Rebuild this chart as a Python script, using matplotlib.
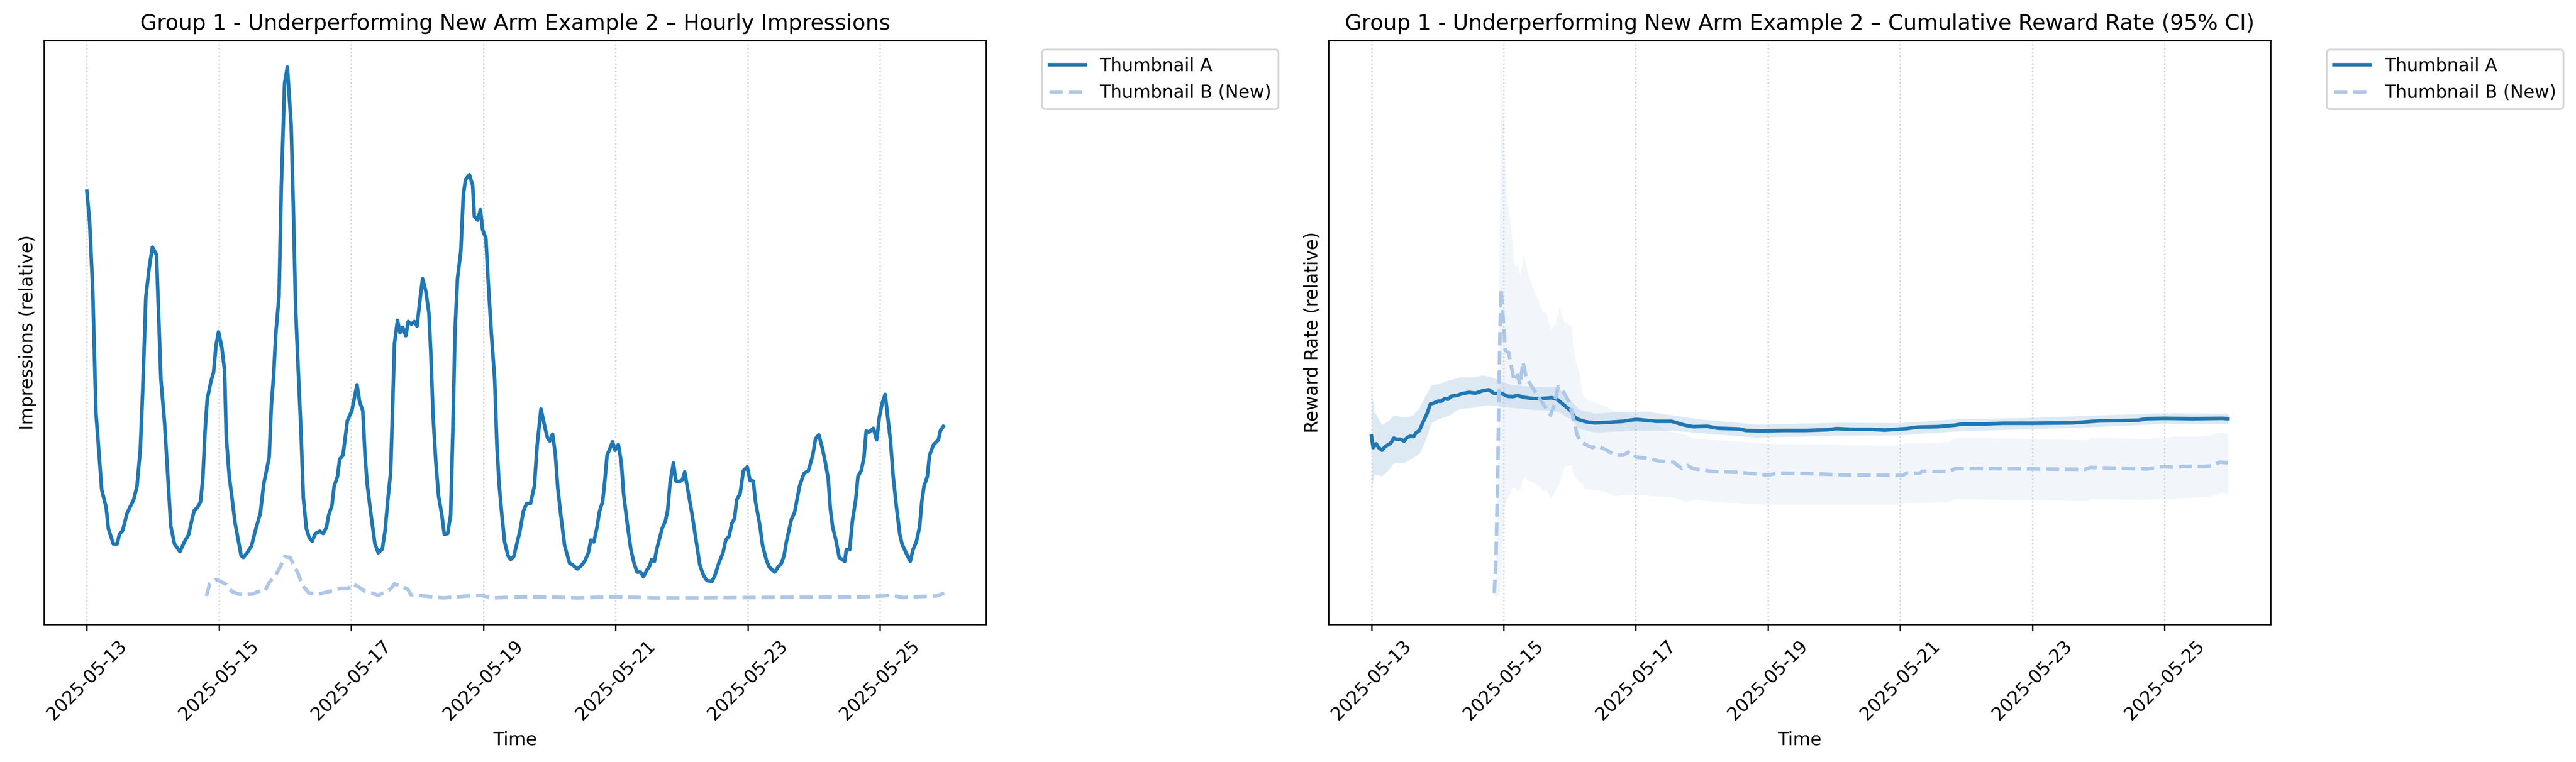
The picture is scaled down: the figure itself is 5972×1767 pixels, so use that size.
import numpy as np
import pandas as pd
import matplotlib
matplotlib.use("Agg")
import matplotlib.pyplot as plt
import matplotlib.dates as mdates

START = pd.Timestamp("2025-05-13 00:00")

# hourly impressions, thumbnail A (hour offset from start, relative value)
IMP_A_HOURS = [0, 1, 2.1, 3.3, 5.4, 7, 7.8, 9.6, 11, 11.8, 13, 14.6, 17, 18.2, 19.4, 20.2, 21, 21.4,
               22.6, 23.8, 25.3, 25.8, 26.9, 28.2, 29.3, 30.5, 31.8, 33.8, 35.4, 37, 38.2, 39, 40.2,
               41.3, 42.1, 42.9, 43.7, 45, 46, 46.9, 47.8, 49, 50, 50.6, 51.7, 52.6, 53.8, 56, 56.8,
               58.2, 59.8, 61, 63, 64.2, 66.2, 67, 67.8, 68.6, 69.8, 70.6, 71.8, 72.8, 74.2, 75, 75.8,
               76.6, 77.8, 78.6, 79.7, 80.8, 81.8, 83, 84.6, 85.8, 87, 87.8, 89, 89.8, 91, 91.8, 93,
               94.6, 96.2, 98.1, 99, 100.2, 101, 101.8, 103, 104.6, 105.8, 107.3, 108.3, 109.3, 110.3,
               110.9, 111.7, 112.8, 113.7, 114.7, 115.8, 116.7, 117.9, 118.9, 119.9, 120.9, 121.9,
               123.1, 124.2, 124.9, 125.7, 126.7, 127.7, 128.9, 129.8, 131, 132.1, 132.9, 133.7,
               134.6, 135.8, 136.7, 137.5, 138.9, 140.1, 140.7, 141.9, 142.9, 143.7, 144.9, 145.7,
               146.9, 148.1, 148.9, 149.7, 150.7, 151.7, 152.9, 153.9, 155, 156.3, 157.3, 158.5,
               159.7, 161.1, 162.5, 163.5, 164.9, 166.5, 167.3, 168.1, 169.1, 170.1, 171, 172.1,
               173.5, 175.3, 176.5, 178.1, 179.7, 180.9, 182.1, 183, 184.1, 185.3, 186.1, 187.3,
               188.1, 188.9, 189.9, 190.9, 191.8, 193, 194.1, 194.9, 196.1, 197.5, 198.7, 199.8,
               201.1, 202.1, 203.3, 204.3, 205.1, 206.1, 206.9, 207.8, 208.9, 210.1, 210.9, 211.8,
               213, 213.9, 215.3, 216.3, 217.1, 218.1, 219.7, 221.2, 222.6, 224, 225.2, 227, 228,
               229.6, 231, 232, 233.2, 234.2, 235.2, 236, 237.2, 238.4, 239.8, 240.8, 242, 242.8,
               244.4, 245.4, 246.8, 247.8, 249.8, 251, 252.2, 253.2, 254, 255.8, 257, 258, 258.8,
               260.4, 262, 263.6, 264.6, 265.8, 267.2, 268.2, 269.2, 270, 270.8, 272, 273.2, 275.2,
               275.8, 277, 278, 279.2, 280, 281.2, 282.2, 283, 284, 285.6, 286.8, 287.8, 288.8,
               289.9, 290.8, 291.8, 292.8, 294, 295.2, 296, 297.6, 299, 300, 301.2, 302.4, 303.2,
               304, 305.2, 306, 307.4, 309.2, 310, 311]
IMP_A = [112.5, 104.5, 87.5, 55, 35, 30.5, 25, 21, 21, 23.5, 24.5, 29, 32.5, 36, 45.5, 59.5, 76, 85,
         92.5, 98, 96, 85.5, 63.5, 52.5, 39.5, 25.5, 21, 19, 21.5, 23.5, 27.5, 29.7, 30.5,
         32, 38, 50, 58.5, 63, 65.5, 72.5, 76, 72, 66, 49, 38.5, 33.5, 26.5, 18, 17.5,
         18.7, 20.5, 24, 29, 36.5, 43.5, 57, 64.5, 75.5, 85.5, 113.5, 140.5, 144.7, 129.5, 107.5, 82.5,
         68.5, 49.5, 33, 25, 22.5, 21.7, 23.7, 24.3, 23.7, 25.3, 28.5, 31, 36, 38.5, 43, 44,
         53, 55.5, 62.3, 58, 55.5, 44, 36.5, 29.5, 21, 18.7, 19.7, 24.5, 32.5, 39.5,
         53.5, 73, 79, 75.8, 77.2, 75, 78.7, 78, 78.7, 77.5, 84, 89.8,
         86.5, 81, 70.5, 54.5, 42.5, 33.5, 28.5, 23.5, 23.7, 28.5, 50.5, 76.5,
         90, 97, 111.5, 115.5, 116.8, 114, 106, 105, 107.7, 102.5, 100.3, 89.5,
         75.5, 63.5, 46.5, 36.5, 28.5, 21.5, 18, 17, 17.7, 21.5, 24.5, 29.5,
         31.5, 31.5, 36, 46.5, 56, 50.7, 48.5, 47.7, 49.5, 44.5, 35.5, 28.5,
         20.5, 16, 15.5, 14.5, 15.5, 16.7, 18.7, 22, 21.5, 25.5, 29.3, 32,
         37.5, 44, 45.7, 47.5, 45.3, 46.8, 42, 34, 27, 19.7, 16, 13.7,
         13.7, 12.5, 14.2, 15.2, 17, 16.5, 19.5, 22, 25, 27, 29.7, 37,
         42, 37.3, 37.2, 37.7, 39.7, 35.5, 29, 22, 15.5, 12.7, 11.5, 11.3, 12.7,
         16.3, 18.7, 22, 23, 26.3, 27.7, 32.5, 34, 40, 41, 37.5, 37.3, 32,
         25.7, 20.5, 16.7, 15, 13.7, 15, 16, 18, 21.5, 27.3, 29.2, 33, 36,
         39.3, 40, 44, 48.3, 49.3, 45.5, 42, 38, 30, 25.5, 22, 17.5, 16.5,
         19.5, 19.5, 27, 32.5, 38.5, 40, 43.5, 50.3, 50, 51, 48, 54, 57.5,
         59.8, 54, 48, 38.5, 30.5, 23.5, 21, 18.5, 16.5, 19.5, 21.5, 25.5, 32,
         36, 38.5, 44, 46.7, 48, 50.5, 51.5]

# hourly impressions, thumbnail B (new arm, starts later)
IMP_B_HOURS = [43.4, 44.6, 47, 49, 50.6, 52.6, 55, 57.4, 60.2, 62.2, 64.6, 66.2, 68.6, 70.2, 71.8,
               73.8, 75, 76.6, 78.2, 80.6, 84.2, 87, 89.4, 92.2, 95, 96.6, 99, 101, 103.4, 105.8,
               107.7, 109.3, 110.5, 111.7, 112.9, 114.5, 116.5, 117.7, 120.1, 125.3, 129.3, 138.1,
               142.9, 147.7, 158.1, 170.1, 178.1, 191.7, 206.1, 222.1, 240, 263.6, 282, 288.7, 292,
               296.4, 303.6, 308.4, 310.8, 311]
IMP_B = [7.5, 10.7, 11.8, 11.1, 10.5, 8.7, 8, 7.9, 8, 8.7, 8.7, 11, 13, 15, 17.7,
         17.5, 15.7, 13.5, 10.3, 8.3, 8, 8.5, 8.9, 9.5, 9.5, 10.7, 9.7, 8.7, 8.3, 7.7,
         8.3, 8.8, 9.5, 10.7, 10.3, 9.8, 9.3, 7.8, 7.7, 7.3, 7, 7.5,
         7.7, 7, 7.3, 7.2, 7, 7.3, 7, 7, 7.1, 7.2, 7.3, 7.5, 7.7,
         7.1, 7.4, 7.5, 8.1, 7.7]

# cumulative reward rate, thumbnail A
RATE_A_HOURS = [0, 0.6, 1.7, 2.6, 3.8, 5, 7, 8.1, 9, 10.6, 11.8, 13, 14.2, 15.3, 16.2, 17.4, 18.6,
                20.2, 21.4, 22.6, 24.2, 25.4, 26.6, 27.8, 29, 31, 33, 35.4, 37.8, 40.2, 42.6, 44.6,
                47, 49.4, 51.4, 53, 55.4, 58.6, 61.8, 65.4, 67.4, 69.4, 72.2, 73.8, 75.4, 77.8, 81,
                85, 89, 91.4, 93.8, 96.2, 99.4, 103.4, 109, 113.2, 116.8, 122, 125.6, 133.6, 136,
                141.6, 149.6, 157.6, 165.6, 168.8, 175.2, 181.6, 186.4, 192, 194.4, 198.4, 205.6,
                212, 214.4, 221.6, 229.6, 240, 254.4, 264, 278.4, 281.6, 288, 298.4, 308.8, 311]
RATE_A = [48, 45, 46, 45, 44.3, 45.3, 46.2, 47.5, 47.2, 47.2, 46.7, 47.7, 48, 47.9, 48.9, 49.5, 51.5,
          54, 56.5, 56.7, 57.2, 57.2, 57.9, 57.7, 58.5, 58.7, 59.2, 59.5, 59.3, 59.9, 60.2, 59.2,
          59.3, 58.5, 58.4, 58.7, 58.2, 57.9, 57.9, 58.1, 57.7, 56.5, 54.8, 53, 52.3, 51.8, 51.5,
          51.6, 51.8, 51.9, 52.2, 52.4, 52.2, 51.9, 51.9, 51, 50.5, 50.6, 50.1, 49.9, 49.5,
          49.4, 49.5, 49.5, 49.7, 50, 49.8, 49.8, 49.6, 49.9, 50, 50.4, 50.5,
          50.9, 51.2, 51.2, 51.4, 51.4, 51.5, 52, 52.2, 52.6, 52.7, 52.6, 52.7, 52.6]

CI_A_HOURS = [0, 1, 3.8, 6, 8.1, 11.8, 14.2, 15.3, 17.4, 19.4, 21.8, 24.2, 28.2, 32, 37, 40.2, 43,
              47, 51, 58.6, 67.4, 72.2, 75.4, 81, 90, 100, 109.6, 120, 140, 170, 192, 212, 240,
              264, 288, 311]
CI_A_LOW = [34, 38, 37.5, 39, 41, 41, 42, 42.5, 43.5, 46.5, 51.5, 52.5, 53.5, 55.2, 55.5, 56, 56.2,
            55.8, 55.5, 55, 54.5, 52.5, 50, 49, 49.3, 49.5, 49.5, 48.8, 47.7, 48.2, 48.3, 49.3, 49.9,
            50.5, 51.3, 51.2]
CI_A_HIGH = [60, 54.5, 51, 52, 53.5, 53, 53.3, 53.7, 55.5, 58.3, 61.5, 61.7, 62.7, 63.5, 63.5, 64, 63.7,
             62.5, 61.5, 61, 61, 57.5, 55, 54, 54.4, 54.5, 53.5, 52.4, 51.1, 51.6, 51.5, 52.5, 52.9,
             53.5, 54.1, 54]

# cumulative reward rate, thumbnail B
RATE_B_HOURS = [44.6, 45.2, 45.8, 46.4, 47.0, 47.4, 47.9, 48.6, 49.8, 51, 51.8, 53, 54, 55, 56.2,
                57.8, 59.8, 61.8, 63.8, 65, 66.2, 67.8, 69.8, 71.8, 73.4, 74.6, 76, 78.6, 80.2, 81.8,
                85, 88.6, 91.4, 93.8, 96.2, 100.2, 104.2, 109.6, 112.8, 114.8, 116.8, 124, 133.6,
                144, 148, 157.6, 173.6, 192.8, 194.4, 199.2, 200, 209.6, 212, 221.6, 259.2, 261.2,
                281.6, 287.2, 292.8, 294.4, 302.4, 305.6, 308, 311]
RATE_B = [6.8, 15.5, 35.5, 65.5, 86.5, 83.5, 78, 70.5, 70, 65.5, 62.5, 64, 61.5, 67.5, 63.5,
          61.5, 59.3, 57, 55, 53.5, 56, 61, 59.5, 57, 52.5, 48.5, 46.5, 45.5, 45, 45.5,
          44.5, 43, 43, 44, 42.5, 42.2, 41.5, 41.2, 39.5, 40.3, 39.5, 38.7, 38.5,
          37.8, 38.3, 38.2, 37.8, 37.7, 38.3, 38.3, 38.8, 38.7, 39.5, 39.5, 39.3, 39.8,
          39.4, 40, 39.8, 40.1, 40, 40.3, 41.2, 41]

CI_B_HOURS = [44.6, 45.2, 45.8, 46.1, 46.6, 47.2, 48.2, 49.2, 50.2, 51, 52.1, 53.1, 54.1, 55.2, 56.5,
              58.1, 60.9, 62.2, 63.5, 65.1, 66.9, 68.2, 70, 72.6, 73.4, 74.2, 75.4, 76.6, 77.4,
              80.6, 84.6, 88.6, 93.8, 99.4, 105, 109.6, 114, 116.8, 125.6, 146.4, 173.6, 192,
              193.6, 209.6, 212, 260, 261.2, 281.6, 292.8, 302.4, 306.4, 308.4, 311]
CI_B_LOW = [6, 5.5, 6, 6.5, 7, 15, 29, 31.5, 32.5, 34.5, 34.5, 33.5, 34, 37.5, 36.5,
            36, 35, 33.5, 34, 31.5, 34, 35.5, 40, 40.5, 37.5, 37, 36, 35.5, 34,
            34, 33.5, 32.3, 32.7, 32.5, 32, 32, 30.7, 31.3, 30.7, 30, 30, 30,
            30.5, 30.7, 31.5, 31, 31.5, 31.3, 31.7, 32, 32.5, 33.3, 32.7]
CI_B_HIGH = [8, 18, 40, 70, 110, 145, 123, 110, 105.7, 100, 92.5, 93, 90, 96.4, 91.5,
             87.7, 83.2, 80.5, 80.7, 75.9, 77.9, 82, 78, 77, 70.5, 67.5, 64.5, 59.5, 58,
             57, 56, 54.5, 53.8, 52, 50.5, 49, 48.5, 47.5, 47, 46, 45.7, 45.5,
             46.2, 46.5, 47.7, 47, 47.7, 47.3, 48, 48, 48.7, 49, 48.7]

COLOR_A = "#1f77b4"
COLOR_B = "#aec7e8"
TICK_DAYS = [13, 15, 17, 19, 21, 23, 25]


def to_time(hours):
    return START + pd.to_timedelta(np.array(hours, dtype=float), unit="h")


def style_axis(ax, title, ylabel):
    ax.set_title(title)
    ax.set_xlabel("Time")
    ax.set_ylabel(ylabel)
    ax.set_yticks([])
    ax.xaxis.set_major_locator(mdates.DayLocator(bymonthday=TICK_DAYS))
    ax.xaxis.set_major_formatter(mdates.DateFormatter("%Y-%m-%d"))
    for lbl in ax.get_xticklabels():
        lbl.set_rotation(45)
    ax.grid(True, axis="x", linestyle=":", alpha=0.6)
    ax.legend(bbox_to_anchor=(1.05, 1), loc="upper left")


fig, (ax1, ax2) = plt.subplots(1, 2, figsize=(5972 / 300, 1767 / 300), dpi=300)
fig.subplots_adjust(left=0.0171, right=0.8815, bottom=0.1805, top=0.9468, wspace=0.3636)

ax1.plot(to_time(IMP_A_HOURS), IMP_A, color=COLOR_A, lw=2, label="Thumbnail A")
ax1.plot(to_time(IMP_B_HOURS), IMP_B, color=COLOR_B, lw=2, ls="--", label="Thumbnail B (New)")
style_axis(ax1, "Group 1 - Underperforming New Arm Example 2 \u2013 Hourly Impressions",
           "Impressions (relative)")

ax2.plot(to_time(RATE_A_HOURS), RATE_A, color=COLOR_A, lw=2, label="Thumbnail A")
ax2.fill_between(to_time(CI_A_HOURS), CI_A_LOW, CI_A_HIGH, color=COLOR_A, alpha=0.15, lw=0)
ax2.plot(to_time(RATE_B_HOURS), RATE_B, color=COLOR_B, lw=2, ls="--", label="Thumbnail B (New)")
ax2.fill_between(to_time(CI_B_HOURS), CI_B_LOW, CI_B_HIGH, color=COLOR_B, alpha=0.15, lw=0)
style_axis(ax2, "Group 1 - Underperforming New Arm Example 2 \u2013 Cumulative Reward Rate (95% CI)",
           "Reward Rate (relative)")

fig.savefig("out.png", dpi=300)
